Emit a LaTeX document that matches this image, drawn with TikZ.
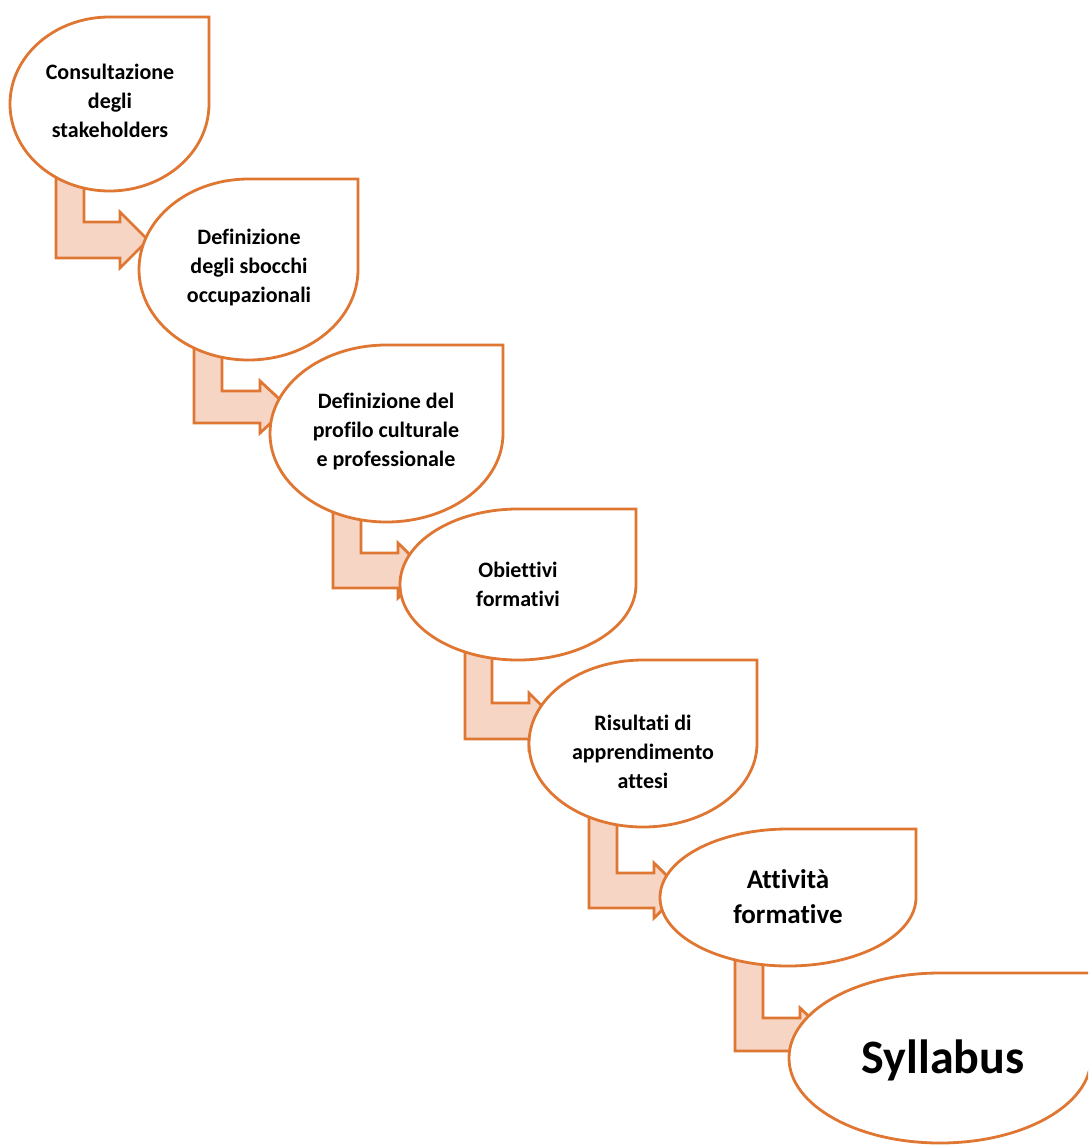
\documentclass[tikz,border=0pt]{standalone}
\usepackage{fontspec}
\setmainfont{Carlito}[Ligatures=NoCommon]
\definecolor{edgeorange}{HTML}{DF7733}
\definecolor{pinkfill}{HTML}{F7D5C4}
\tikzset{
  drop/.style={draw=edgeorange, fill=white, line width=2.8pt, line join=miter},
  barrow/.style={draw=edgeorange, fill=pinkfill, line width=2.8pt, line join=miter},
  lbl/.style={font=\bfseries\fontsize{22}{29}\selectfont, align=center, inner sep=0pt, text=black},
}
% teardrop: cx cy rx ry
\newcommand\tdrop[4]{%
  \draw[drop] (#1,#2-#4) -- (#1+#3,#2-#4) -- (#1+#3,#2)
    arc[start angle=0, end angle=270, x radius=#3, y radius=#4] -- cycle;}
% bent arrow: xouter xinner yinner ybottom xheadbase ytop
\newcommand\barr[6]{%
  \draw[barrow] (#1,#6) -- (#1,#4) -- (#5,#4) -- (#5,#4+10) -- (#5+28,{(#3+#4)/2})
    -- (#5,#3-10) -- (#5,#3) -- (#2,#3) -- (#2,#6) -- cycle;}
\begin{document}
\begin{tikzpicture}[x=1pt, y=-1pt]
\useasboundingbox (0,0) rectangle (1088,1146);
\clip (0,0) rectangle (1088,1146);
% arrows
\barr{56}{84}{222}{258}{120}{150}
\barr{194}{222}{391}{423}{260}{320}
\barr{333}{361}{553}{588}{398}{480}
\barr{465}{492}{703}{739}{529}{620}
\barr{589}{617}{873}{908}{654}{790}
\barr{735}{763}{1018}{1051}{800}{930}
% teardrops
\tdrop{109.5}{104}{99.5}{87}
\tdrop{248.5}{269.5}{109.5}{90.5}
\tdrop{386.5}{433.5}{116.5}{88.5}
\tdrop{518}{584.5}{118}{75.5}
\tdrop{643}{743.5}{114}{83.5}
\tdrop{788}{897.5}{128}{68.5}
\tdrop{940}{1058}{151}{85}
% labels
\node[lbl] (n1) at (110,101) {Consultazione\\degli\\stakeholders};
\node[lbl] (n2) at (249,268) {Definizione\\degli sbocchi\\occupazionali};
\node[lbl] (n3) at (386,432) {Definizione del\\profilo culturale\\e professionale};
\node[lbl] (n4) at (518,584) {Obiettivi\\formativi};
\node[lbl] (n5) at (643,752) {Risultati di\\apprendimento\\attesi};
\node[lbl, font=\bfseries\fontsize{27}{35}\selectfont] (n6) at (788,897) {Attività\\formative};
\node[lbl, font=\bfseries\fontsize{48}{56}\selectfont] (n7) at (943,1060) {Syllabus};
\end{tikzpicture}
\end{document}
